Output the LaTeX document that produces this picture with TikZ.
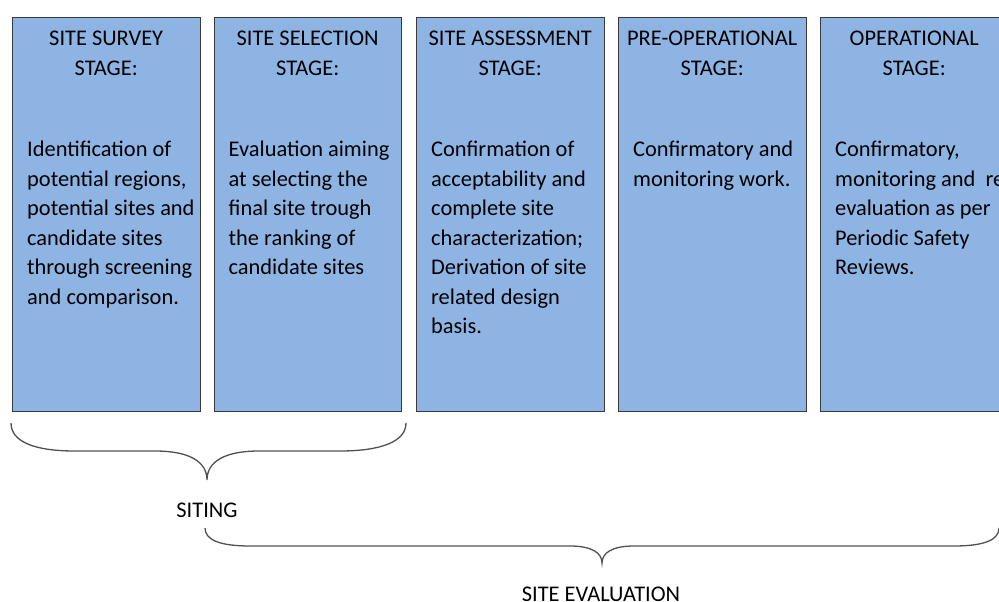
\documentclass[tikz,border=0pt]{standalone}
\usepackage{fontspec}
\setmainfont{Carlito}
\definecolor{boxfill}{HTML}{8EB4E3}
\definecolor{boxline}{HTML}{3A3A3A}
\definecolor{bracecol}{HTML}{505050}
\begin{document}
\begin{tikzpicture}[x=1pt,y=-1pt,
  stagebox/.style={draw=boxline, fill=boxfill, line width=0.9pt, minimum width=187.5pt, minimum height=394pt, anchor=north west, inner sep=0pt},
  stagetitle/.style={anchor=base, align=center, font=\fontsize{22.4}{29}\selectfont, inner sep=0pt},
  stagebody/.style={anchor=base west, align=left, font=\fontsize{22.4}{29.5}\selectfont, inner sep=0pt},
  bracepath/.style={draw=bracecol, line width=1.3pt},
  bracelabel/.style={anchor=base, font=\fontsize{22.4}{26}\selectfont, inner sep=0pt}]
\useasboundingbox (0,0) rectangle (999,602);
\clip (0,0) rectangle (999,602);
\foreach \i/\xx in {1/12,2/213.5,3/416,4/618,5/820}{
  \node[stagebox] (s\i) at (\xx,17) {};
}
% titles: anchor = baseline of last line (75)
\node[stagetitle] (t1) at ([yshift=-58pt]s1.north) {SITE SURVEY\\STAGE:};
\node[stagetitle] (t2) at ([yshift=-58pt]s2.north) {SITE SELECTION\\STAGE:};
\node[stagetitle] (t3) at ([yshift=-58pt]s3.north) {SITE ASSESSMENT\\STAGE:};
\node[stagetitle] (t4) at ([yshift=-58pt]s4.north) {PRE-OPERATIONAL\\STAGE:};
\node[stagetitle] (t5) at ([yshift=-58pt]s5.north) {OPERATIONAL\\STAGE:};
% bodies: anchor = baseline of last line; first baseline at 156.5
\node[stagebody] (d1) at ([shift={(15pt,-287pt)}]s1.north west) {Identification of\\potential regions,\\potential sites and\\candidate sites\\through screening\\and comparison.};
\node[stagebody] (d2) at ([shift={(15pt,-257.5pt)}]s2.north west) {Evaluation aiming\\at selecting the\\final site trough\\the ranking of\\candidate sites};
\node[stagebody] (d3) at ([shift={(15pt,-316.5pt)}]s3.north west) {Confirmation of\\acceptability and\\complete site\\characterization;\\Derivation of site\\related design\\basis.};
\node[stagebody] (d4) at ([shift={(15pt,-169pt)}]s4.north west) {Confirmatory and\\monitoring work.};
\node[stagebody] (d5) at ([shift={(15pt,-257.5pt)}]s5.north west) {Confirmatory,\\monitoring and\ \ re-\\evaluation as per\\Periodic Safety\\Reviews.};
% braces
\coordinate (b1l) at (11,423);
\coordinate (b1t) at (207,480);
\coordinate (b1r) at (406,423);
\draw[bracepath] (b1l) .. controls (11,442) and (35,451) .. (75,451) -- (155,451)
  .. controls (190,451) and (207,462) .. (b1t)
  .. controls (207,462) and (224,451) .. (259,451) -- (340,451)
  .. controls (380,451) and (406,442) .. (b1r);
\node[bracelabel] (siting) at (207,517) {SITING};
\coordinate (b2l) at (205,528);
\coordinate (b2t) at (602,563);
\coordinate (b2r) at (999,528);
\draw[bracepath] (b2l) .. controls (205,540) and (220,546) .. (250,546) -- (570,546)
  .. controls (592,546) and (602,553) .. (b2t)
  .. controls (602,553) and (612,546) .. (634,546) -- (954,546)
  .. controls (984,546) and (999,540) .. (b2r);
\node[bracelabel] (evaluation) at (601,601) {SITE EVALUATION};
\end{tikzpicture}
\end{document}
